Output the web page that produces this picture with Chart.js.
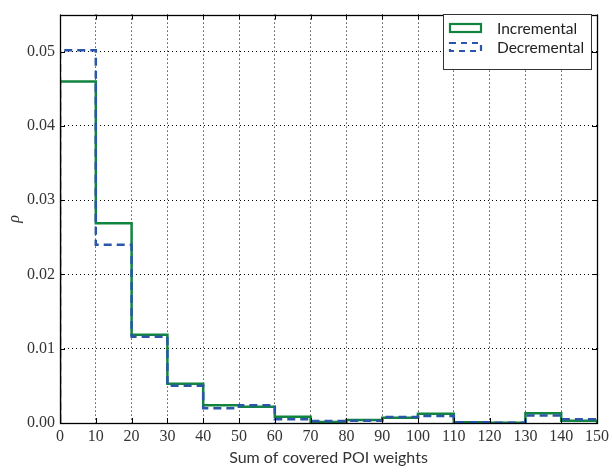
<!DOCTYPE html>
<html>
<head>
<meta charset="utf-8">
<script src="https://cdn.jsdelivr.net/npm/chart.js@4/dist/chart.umd.min.js"></script>
<style>
html,body{margin:0;padding:0;background:#fff;}
#wrap{width:613px;height:473px;}
</style>
</head>
<body>
<div id="wrap"><canvas id="c" width="613" height="473"></canvas></div>
<script>
// ---- data ----
const binEdges = [0,10,20,30,40,50,60,70,80,90,100,110,120,130,140,150];
const incremental = [0.0460,0.0269,0.0119,0.0053,0.0024,0.0022,0.00083,0.00015,0.0004,0.0007,0.00125,0.0001,0.00005,0.0013,0.0003];
const decremental = [0.0502,0.0240,0.0116,0.0050,0.0020,0.0024,0.0005,0.00026,0.0003,0.0008,0.00095,0.0001,0.00005,0.0010,0.0005];
const xTicks = [0,10,20,30,40,50,60,70,80,90,100,110,120,130,140,150];
const yTicks = [0,0.01,0.02,0.03,0.04,0.05];
const seriesNames = ['Incremental','Decremental'];
const xTitle = 'Sum of covered POI weights';
const yTitle = 'ρ';

const GREEN = '#11843f';
const BLUE = '#2a55a8';

function stepPoints(vals){
  const pts = [{x:binEdges[0], y:0}];
  for(let i=0;i<vals.length;i++) pts.push({x:binEdges[i], y:vals[i]});
  pts.push({x:binEdges[binEdges.length-1], y:vals[vals.length-1]});
  pts.push({x:binEdges[binEdges.length-1], y:0});
  return pts;
}

const serifTick = {family:'"Liberation Serif", serif', size:16};

const framePlugin = {
  id:'frame',
  afterDatasetsDraw(chart){
    const {ctx, chartArea:a, scales:{x,y}} = chart;
    ctx.save();
    ctx.strokeStyle = '#000';
    ctx.lineWidth = 1;
    const L = 5;
    ctx.beginPath();
    xTicks.forEach(v=>{
      const px = Math.round(x.getPixelForValue(v))+0.5;
      ctx.moveTo(px,a.bottom); ctx.lineTo(px,a.bottom-L);
      ctx.moveTo(px,a.top); ctx.lineTo(px,a.top+L);
    });
    yTicks.forEach(v=>{
      const py = Math.round(y.getPixelForValue(v))+0.5;
      ctx.moveTo(a.left,py); ctx.lineTo(a.left+L,py);
      ctx.moveTo(a.right,py); ctx.lineTo(a.right-L,py);
    });
    ctx.stroke();
    ctx.lineWidth = 1.3;
    ctx.strokeRect(Math.round(a.left)+0.5, Math.round(a.top)+0.5, Math.round(a.right-a.left), Math.round(a.bottom-a.top));
    // legend
    const bx = 443.5, by = 14.5, bw = 148, bh = 55;
    ctx.fillStyle = '#fff';
    ctx.fillRect(bx,by,bw,bh);
    ctx.strokeStyle = '#333';
    ctx.lineWidth = 1;
    ctx.strokeRect(bx,by,bw,bh);
    const ds = chart.data.datasets;
    const rows = [28, 47];
    ctx.font = '15.5px Lato, sans-serif';
    ctx.textBaseline = 'middle';
    ctx.textAlign = 'left';
    ds.forEach((d,i)=>{
      const cy = rows[i];
      ctx.strokeStyle = d.borderColor;
      ctx.lineWidth = 2.2;
      ctx.setLineDash(d.borderDash ? [6,5] : []);
      ctx.strokeRect(450, cy-4, 31, 8);
      ctx.setLineDash([]);
      ctx.fillStyle = '#222';
      ctx.fillText(d.label, 497, cy+1);
    });
    ctx.restore();
  }
};

new Chart(document.getElementById('c'), {
  type:'line',
  data:{
    datasets:[
      {label:seriesNames[0], data:stepPoints(incremental), borderColor:GREEN, borderWidth:2.5, pointRadius:0, stepped:'before', fill:false, order:1},
      {label:seriesNames[1], data:stepPoints(decremental), borderColor:BLUE, borderWidth:2.5, borderDash:[8,5], pointRadius:0, stepped:'before', fill:false, order:0}
    ]
  },
  options:{
    responsive:false,
    animation:false,
    layout:{padding:{top:5,right:14,left:0,bottom:0}},
    plugins:{legend:{display:false}, tooltip:{enabled:false}},
    scales:{
      x:{
        type:'linear', min:0, max:150,
        afterBuildTicks(s){ s.ticks = xTicks.map(v=>({value:v})); },
        afterFit(s){ s.height = 50; },
        grid:{color:'#000', lineWidth:1, drawTicks:false},
        border:{display:false, dash:[1,3]},
        ticks:{font:serifTick, color:'#333', padding:4, maxRotation:0, autoSkip:false, callback:v=>String(v)},
        title:{display:true, text:xTitle, font:{family:'Lato, sans-serif', size:16}, color:'#333', padding:{top:0,bottom:6}}
      },
      y:{
        type:'linear', min:0, max:0.055,
        afterBuildTicks(s){ s.ticks = yTicks.map(v=>({value:v})); },
        afterFit(s){ s.width = 60; },
        grid:{color:'#000', lineWidth:1, drawTicks:false},
        border:{display:false, dash:[1,3]},
        ticks:{font:serifTick, color:'#333', padding:5, autoSkip:false, callback:v=>v.toFixed(2)},
        title:{display:true, text:yTitle, font:{family:'"Liberation Serif", serif', size:16, style:'italic'}, color:'#333', padding:{top:5,bottom:0}}
      }
    }
  },
  plugins:[framePlugin]
});
</script>
</body>
</html>
